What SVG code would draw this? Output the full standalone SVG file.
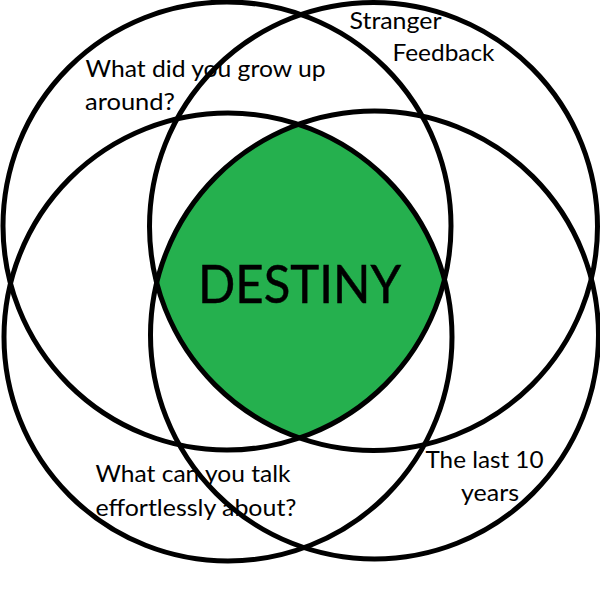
<svg xmlns="http://www.w3.org/2000/svg" width="600" height="600" viewBox="0 0 600 600">
<style>
.c{fill:none;stroke:#000;stroke-width:5}
.t{font-family:"Lato","Open Sans","Liberation Sans",sans-serif;font-size:24px;fill:#000}
</style>
<rect width="600" height="600" fill="#fff"/>
<g id="destiny-region">
<path d="M300 125A224 224 0 0 1 443.500 279.500A224 224 0 0 1 300 437.500A224 224 0 0 1 157 283A224 224 0 0 1 300 125Z" fill="#25B04E"/>
</g>
<g id="circle-top-left"><circle class="c" cx="227" cy="226" r="224"/></g>
<g id="circle-top-right"><circle class="c" cx="373.500" cy="226.500" r="224"/></g>
<g id="circle-bottom-left"><circle class="c" cx="228" cy="337" r="224"/></g>
<g id="circle-bottom-right"><circle class="c" cx="374.500" cy="335" r="224"/></g>
<text class="t" x="85.500" y="77" textLength="240" lengthAdjust="spacingAndGlyphs">What did you grow up</text>
<text class="t" x="85" y="110" textLength="90" lengthAdjust="spacingAndGlyphs">around?</text>
<text class="t" x="349.500" y="29" textLength="92" lengthAdjust="spacingAndGlyphs">Stranger</text>
<text class="t" x="392.500" y="61" textLength="102" lengthAdjust="spacingAndGlyphs">Feedback</text>
<text class="t" x="95.500" y="482" textLength="195" lengthAdjust="spacingAndGlyphs">What can you talk</text>
<text class="t" x="95.500" y="516" textLength="201" lengthAdjust="spacingAndGlyphs">effortlessly about?</text>
<text class="t" x="425.500" y="468" textLength="118" lengthAdjust="spacingAndGlyphs">The last 10</text>
<text class="t" x="461" y="501" textLength="58" lengthAdjust="spacingAndGlyphs">years</text>
<text x="198" y="302.500" textLength="203" lengthAdjust="spacingAndGlyphs" style="font-family:'Lato','Open Sans','Liberation Sans',sans-serif;font-size:52px;fill:#000;stroke:#000;stroke-width:.5">DESTINY</text>
</svg>
